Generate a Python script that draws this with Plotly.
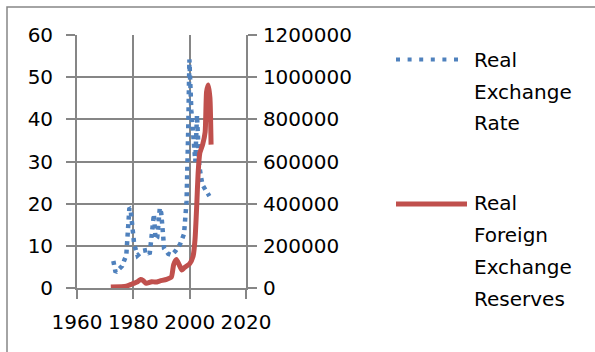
import plotly.graph_objects as go

# ---- data ----
rer_years = [1972.9, 1973.7, 1976.0, 1977.5, 1978.6, 1979.0, 1980.3, 1981.5, 1983.3, 1984.9,
             1985.8, 1986.6, 1987.3, 1987.9, 1988.5, 1989.4, 1989.9, 1990.6, 1990.9, 1992.4,
             1993.6, 1995.0, 1996.6, 1998.0, 1998.9, 1999.5, 1999.9, 2000.6, 2001.3, 2002.0,
             2002.6, 2003.4, 2004.5, 2005.8, 2007.0]
rer_values = [6.4, 3.7, 5.2, 7.8, 19.0, 18.8, 10.4, 7.7, 8.8, 9.0,
              8.0, 14.0, 17.5, 11.5, 12.0, 19.0, 17.8, 12.3, 9.4, 8.1,
              7.8, 8.8, 10.4, 12.8, 20.6, 38.0, 54.2, 42.0, 34.5, 30.0,
              41.0, 29.0, 24.5, 23.2, 21.8]

fxr_years = [1972.0, 1977.5, 1979.5, 1981.5, 1982.6, 1983.5, 1984.6, 1986.5, 1988.0, 1989.5,
             1991.8, 1993.5, 1994.3, 1995.3, 1996.3, 1997.2, 1998.0, 2000.0, 2001.2, 2001.9,
             2002.5, 2003.0, 2003.6, 2004.6, 2005.5, 2006.0, 2006.6, 2007.2, 2007.6]
fxr_values = [5000, 9000, 19000, 30000, 40000, 35000, 22000, 30000, 28000, 34000,
              41000, 52000, 110000, 135000, 110000, 85000, 95000, 115000, 150000, 230000,
              390000, 545000, 640000, 680000, 740000, 930000, 963000, 900000, 680000]

series_names = [["Real", "Exchange", "Rate"],
                ["Real", "Foreign", "Exchange", "Reserves"]]

x_ticks = [1960, 1980, 2000, 2020]
y_ticks = [0, 10, 20, 30, 40, 50, 60]
y2_ticks = [0, 200000, 400000, 600000, 800000, 1000000, 1200000]

BLUE = "#4F81BD"
RED = "#C0504D"
GRID = "#868686"
FONT = "DejaVu Sans"

W, H = 595, 352
L, R, T, B = 77, 246, 35, 288   # plot area in pixels


def px(xp):
    return (xp - L) / (R - L)


def py(yp):
    return (B - yp) / (B - T)


fig = go.Figure()
fig.add_trace(go.Scatter(x=rer_years, y=rer_values, mode="lines", name="Real Exchange Rate",
                         line=dict(color=BLUE, width=4.5, dash="4px,4.5px"),
                         showlegend=False))
fig.add_trace(go.Scatter(x=fxr_years, y=fxr_values, mode="lines",
                         name="Real Foreign Exchange Reserves", yaxis="y2",
                         line=dict(color=RED, width=5, shape="spline", smoothing=0.5),
                         showlegend=False))

axis_common = dict(showline=True, linecolor=GRID, linewidth=1.8, ticks="outside", ticklen=9,
                   tickcolor=GRID, tickwidth=1.8, zeroline=False,
                   tickfont=dict(family=FONT, size=20, color="black"))

fig.update_layout(
    width=W, height=H,
    margin=dict(l=L, r=W - R, t=T, b=H - B, pad=0),
    paper_bgcolor="white", plot_bgcolor="white",
    showlegend=False,
    xaxis=dict(range=[1960, 2020], tickvals=x_ticks, ticklabelstandoff=6,
               showgrid=True, gridcolor=GRID, gridwidth=1.8, **axis_common),
    yaxis=dict(range=[0, 60], tickvals=y_ticks, ticklabelstandoff=9,
               showgrid=True, gridcolor=GRID, gridwidth=1.8, **axis_common),
    yaxis2=dict(range=[0, 1200000], tickvals=y2_ticks, overlaying="y", side="right",
                tickformat="d", ticklabelstandoff=2, showgrid=False, **axis_common),
)

shapes = []
# chart border
shapes.append(dict(type="rect", xref="paper", yref="paper",
                   x0=px(7), x1=px(W + 10), y0=py(H + 10), y1=py(7),
                   line=dict(color=GRID, width=1.5), fillcolor="rgba(0,0,0,0)", layer="below"))
# legend symbols
shapes.append(dict(type="line", xref="paper", yref="paper",
                   x0=px(396), x1=px(459), y0=py(59.5), y1=py(59.5),
                   line=dict(color=BLUE, width=4, dash="4px,7.6px")))
shapes.append(dict(type="line", xref="paper", yref="paper",
                   x0=px(396), x1=px(467), y0=py(204), y1=py(204),
                   line=dict(color=RED, width=5)))

annotations = []
legend_rows = [(60, 31.5), (203, 32)]
for names, (y0, step) in zip(series_names, legend_rows):
    for i, word in enumerate(names):
        annotations.append(dict(text=word, xref="paper", yref="paper",
                                x=px(472), y=py(y0 + i * step), xanchor="left",
                                yanchor="middle", showarrow=False,
                                font=dict(family=FONT, size=20, color="black")))

fig.update_layout(shapes=shapes, annotations=annotations)
fig.write_html("out.html", config={"displayModeBar": False},
               post_script="document.body.style.margin='0';document.body.style.overflow='hidden';")
